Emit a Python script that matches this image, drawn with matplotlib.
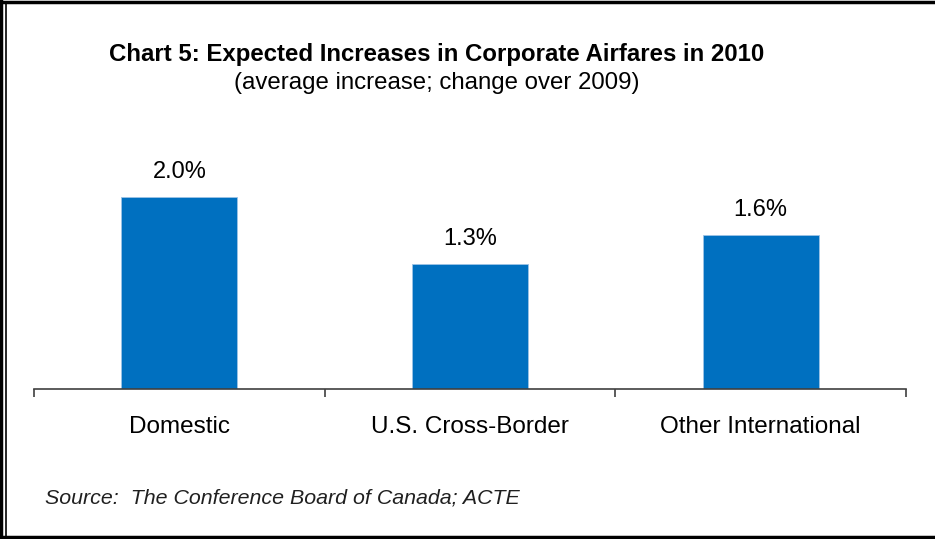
import matplotlib
matplotlib.use("Agg")
from matplotlib import pyplot as plt
from matplotlib.lines import Line2D

categories = ["Domestic", "U.S. Cross-Border", "Other International"]
increase = [2.0, 1.3, 1.6]
value_labels = ["2.0%", "1.3%", "1.6%"]

plt.rcParams['font.family'] = ['Liberation Sans', 'DejaVu Sans']

fig = plt.figure(figsize=(9.35, 5.39), dpi=100)
W, H = 935, 539
ax = fig.add_axes([34 / W, 1 - 389 / H, (906 - 34) / W, (389 - 140) / H])

x = list(range(len(categories)))
ax.bar(x, increase, width=0.4, color='#0070C0', edgecolor='#9DC3E6', linewidth=0.6)
for xi, v, lab in zip(x, increase, value_labels):
    ax.text(xi, v + 0.26, lab, ha='center', va='center', fontsize=17)

ax.set_xlim(-0.5, 2.5)
ax.set_ylim(0, (389 - 140) / 96)
ax.set_yticks([])
ax.set_xticks([-0.5, 0.5, 1.5, 2.5], minor=False)
ax.set_xticklabels([])
ax.tick_params(axis='x', direction='out', length=6, width=1.2, color='#404040')
for i, c in enumerate(categories):
    ax.text(i, -0.4, c, ha='center', va='center', fontsize=17.5)
for s in ['top', 'right', 'left']:
    ax.spines[s].set_visible(False)
ax.spines['bottom'].set_color('#404040')
ax.spines['bottom'].set_linewidth(1.2)

fig.text(437 / W, 1 - 55 / H, 'Chart 5: Expected Increases in Corporate Airfares in 2010',
         ha='center', va='center', fontsize=17.3, fontweight='bold')
fig.text(437 / W, 1 - 83 / H, '(average increase; change over 2009)',
         ha='center', va='center', fontsize=17.3)
fig.text(45 / W, 1 - 498 / H, 'Source:  The Conference Board of Canada; ACTE',
         ha='left', va='center', fontsize=15.4, style='italic', color='#202020')

# frame
fig.add_artist(Line2D([1 / W, 1 / W], [0, 1], color='black', linewidth=2.5))
fig.add_artist(Line2D([5.5 / W, 5.5 / W], [2 / H, 1 - 2 / H], color='black', linewidth=1.2))
fig.add_artist(Line2D([0, 1], [1 - 1.5 / H, 1 - 1.5 / H], color='black', linewidth=2.5))
fig.add_artist(Line2D([0, 1], [2 / H, 2 / H], color='black', linewidth=2.5))

fig.savefig('out.png', dpi=100)
